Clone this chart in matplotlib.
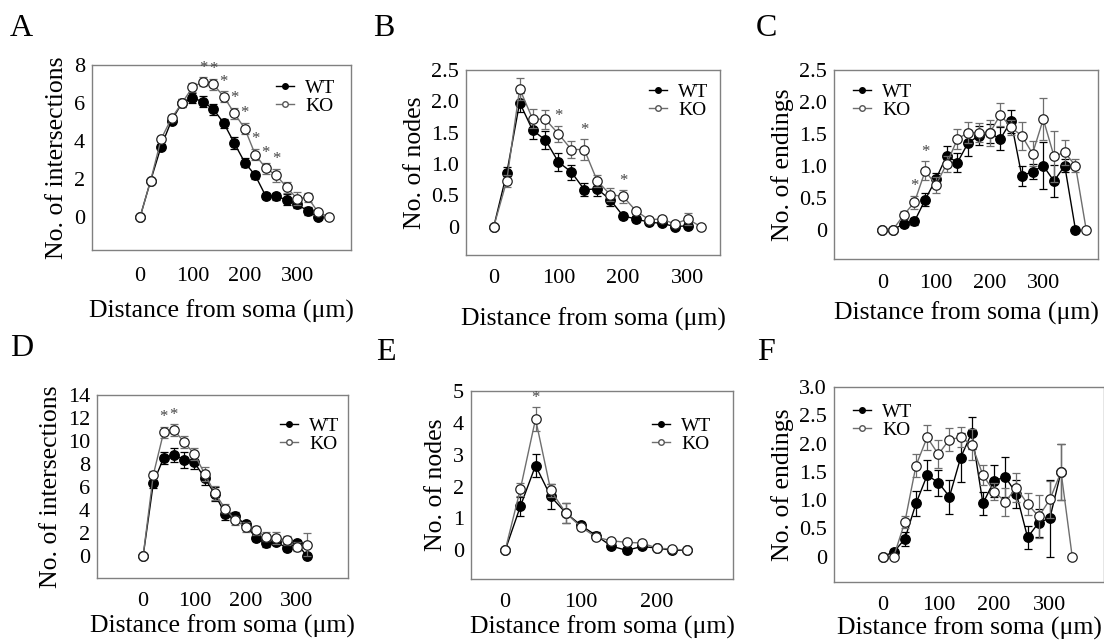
import numpy as np
import matplotlib
matplotlib.use("Agg")
import matplotlib.pyplot as plt

plt.rcParams['font.family'] = ['Liberation Serif', 'DejaVu Serif']

# ---------------- data ----------------
# A: intersections, first set
a_x_wt = [0, 20, 40, 60, 80, 100, 120, 140, 160, 180, 200, 220, 240, 260, 280, 300, 320, 340]
a_wt = [0, 1.9, 3.7, 5.07, 6.0, 6.26, 6.07, 5.67, 4.93, 3.88, 2.86, 2.18, 1.1, 1.07, 0.9, 0.68, 0.3, 0.0]
a_wt_err = [0, 0.05, 0.15, 0.15, 0.2, 0.25, 0.3, 0.3, 0.25, 0.3, 0.25, 0.2, 0.15, 0.2, 0.3, 0.2, 0.2, 0.05]
a_x_ko = [0, 20, 40, 60, 80, 100, 120, 140, 160, 180, 200, 220, 240, 260, 280, 300, 320, 340, 360]
a_ko = [0, 1.9, 4.09, 5.2, 6.0, 6.82, 7.12, 6.98, 6.33, 5.46, 4.65, 3.28, 2.56, 2.19, 1.56, 0.95, 1.03, 0.25, 0.0]
a_ko_err = [0, 0.1, 0.15, 0.15, 0.2, 0.25, 0.25, 0.3, 0.3, 0.3, 0.3, 0.3, 0.3, 0.35, 0.3, 0.35, 0.25, 0.1, 0]
a_stars = [120, 140, 160, 180, 200, 220, 240, 260]

# B: nodes, first set
b_x_wt = [0, 20, 40, 60, 80, 100, 120, 140, 160, 180, 200, 220, 240, 260, 280, 300]
b_wt = [0, 0.85, 1.98, 1.54, 1.38, 1.03, 0.87, 0.59, 0.6, 0.43, 0.17, 0.12, 0.07, 0.05, 0.0, 0.01]
b_wt_err = [0, 0.1, 0.15, 0.14, 0.14, 0.15, 0.12, 0.1, 0.12, 0.1, 0.05, 0.05, 0.03, 0.03, 0.02, 0.02]
b_x_ko = [0, 20, 40, 60, 80, 100, 120, 140, 160, 180, 200, 220, 240, 260, 280, 300, 320]
b_ko = [0, 0.73, 2.2, 1.72, 1.71, 1.48, 1.23, 1.23, 0.73, 0.51, 0.48, 0.25, 0.11, 0.12, 0.04, 0.12, 0.0]
b_ko_err = [0, 0.1, 0.18, 0.15, 0.15, 0.13, 0.14, 0.16, 0.1, 0.1, 0.1, 0.05, 0.04, 0.04, 0.03, 0.1, 0]
b_stars = [100, 140, 200]

# C: endings, first set
c_x_wt = [0, 20, 40, 60, 80, 100, 120, 140, 160, 180, 200, 220, 240, 260, 280, 300, 320, 340, 360]
c_wt = [0, 0, 0.09, 0.13, 0.47, 0.79, 1.16, 1.05, 1.36, 1.47, 1.51, 1.42, 1.70, 0.84, 0.91, 1.0, 0.76, 1.0, 0.0]
c_wt_err = [0, 0, 0.05, 0.05, 0.1, 0.1, 0.15, 0.15, 0.2, 0.15, 0.15, 0.18, 0.18, 0.15, 0.12, 0.37, 0.25, 0.1, 0]
c_x_ko = [0, 20, 40, 60, 80, 100, 120, 140, 160, 180, 200, 220, 240, 260, 280, 300, 320, 340, 360, 380]
c_ko = [0, 0, 0.23, 0.43, 0.92, 0.70, 1.03, 1.42, 1.52, 1.52, 1.51, 1.80, 1.60, 1.47, 1.19, 1.73, 1.15, 1.21, 1.0, 0.0]
c_ko_err = [0, 0, 0.06, 0.1, 0.15, 0.12, 0.12, 0.15, 0.16, 0.15, 0.2, 0.18, 0.12, 0.22, 0.2, 0.33, 0.4, 0.2, 0.1, 0]
c_stars = [60, 80]

# D: intersections, second set
d_x = [0, 20, 40, 60, 80, 100, 120, 140, 160, 180, 200, 220, 240, 260, 280, 300, 320]
d_wt = [0, 6.36, 8.53, 8.8, 8.38, 8.15, 6.8, 5.4, 3.67, 3.47, 2.75, 1.59, 1.1, 1.24, 0.72, 1.1, 0.0]
d_wt_err = [0, 0.4, 0.5, 0.6, 0.7, 0.6, 0.6, 0.6, 0.5, 0.4, 0.3, 0.3, 0.3, 0.3, 0.3, 0.3, 0.1]
d_ko = [0, 7.08, 10.75, 10.98, 9.91, 8.87, 7.17, 5.49, 4.13, 3.12, 2.54, 2.25, 1.68, 1.59, 1.39, 0.81, 1.01]
d_ko_err = [0, 0.3, 0.5, 0.5, 0.5, 0.5, 0.6, 0.6, 0.4, 0.4, 0.4, 0.4, 0.4, 0.5, 0.4, 0.4, 1.0]
d_stars = [40, 60]

# E: nodes, second set
e_x = [0, 20, 40, 60, 80, 100, 120, 140, 160, 180, 200, 220, 240]
e_wt = [0, 1.38, 2.66, 1.69, 1.17, 0.78, 0.46, 0.13, 0.0, 0.12, 0.07, 0.0, 0.0]
e_wt_err = [0, 0.3, 0.35, 0.4, 0.3, 0.1, 0.1, 0.05, 0.03, 0.05, 0.03, 0.02, 0]
e_ko = [0, 1.92, 4.12, 1.88, 1.17, 0.73, 0.41, 0.3, 0.25, 0.23, 0.07, 0.04, 0.0]
e_ko_err = [0, 0.2, 0.38, 0.2, 0.3, 0.1, 0.08, 0.05, 0.05, 0.05, 0.03, 0.02, 0]
e_stars = [40]

# F: endings, second set
f_x_wt = [0, 20, 40, 60, 80, 100, 120, 140, 160, 180, 200, 220, 240, 260, 280, 300, 320]
f_wt = [0, 0.08, 0.31, 0.94, 1.44, 1.31, 1.06, 1.75, 2.19, 0.94, 1.34, 1.41, 1.11, 0.34, 0.6, 0.68, 1.5]
f_wt_err = [0, 0.05, 0.12, 0.22, 0.27, 0.23, 0.3, 0.43, 0.28, 0.2, 0.28, 0.35, 0.25, 0.2, 0.25, 0.68, 0.5]
f_x_ko = [0, 20, 40, 60, 80, 100, 120, 140, 160, 180, 200, 220, 240, 260, 280, 300, 320, 340]
f_ko = [0, 0, 0.61, 1.61, 2.11, 1.81, 2.07, 2.11, 1.98, 1.44, 1.15, 0.97, 1.22, 0.93, 0.71, 1.01, 1.5, 0.0]
f_ko_err = [0, 0, 0.1, 0.2, 0.22, 0.25, 0.2, 0.18, 0.28, 0.18, 0.15, 0.25, 0.25, 0.2, 0.38, 0.33, 0.5, 0]

ko_grey = '#6e6e6e'
fs_lab = 18.5
fs_tick = 16

W, H = 1104, 644
fig = plt.figure(figsize=(W / 100, H / 100), dpi=100)


def px_axes(x0, y0, x1, y1):
    return fig.add_axes([x0 / W, 1 - y1 / H, (x1 - x0) / W, (y1 - y0) / H])


def draw_panel(ax, xw, yw, ew, xk, yk, ek, stars, xlim, ylim, xt, yt, ytl,
               ylabel, leg_px, xpad=12, xlabpad=10):
    ax.errorbar(xw, yw, yerr=ew, color='black', lw=1.0, marker='o', ms=6.8,
                mfc='black', mec='black', ecolor='black', elinewidth=0.9,
                capsize=2.6, capthick=0.9, zorder=3, label='WT')
    ax.errorbar(xk, yk, yerr=ek, color=ko_grey, lw=1.0, marker='o', ms=6.8,
                mfc='white', mec='#222222', mew=0.9, ecolor=ko_grey,
                elinewidth=0.9, capsize=2.6, capthick=0.9, zorder=4, label='KO')
    for s in stars:
        i = xk.index(s)
        ax.annotate('*', (s, yk[i] + ek[i]), xytext=(0, 1), textcoords='offset points',
                    ha='center', va='bottom', fontsize=12, color='#444444')
    ax.set_xlim(*xlim)
    ax.set_ylim(*ylim)
    ax.set_xticks(xt)
    ax.set_yticks(yt)
    ax.set_yticklabels(ytl)
    ax.tick_params(length=0, labelsize=fs_tick)
    ax.tick_params(axis='x', pad=xpad)
    ax.tick_params(axis='y', pad=5)
    for sp in ax.spines.values():
        sp.set_color('#808080')
        sp.set_linewidth(1.0)
    ax.set_xlabel('Distance from soma (\u03bcm)', fontsize=fs_lab, labelpad=xlabpad)
    ax.set_ylabel(ylabel, fontsize=fs_lab, labelpad=4)
    h, l = ax.get_legend_handles_labels()
    hh = [plt.Line2D([], [], color=c, marker='o', ms=4, mfc=f, mec=e, lw=1.0)
          for c, f, e in [('black', 'black', 'black'), (ko_grey, 'white', '#555555')]]
    # leg_px: (left of handle, centre of first row) in figure pixels
    ax.legend(hh, l, loc='upper left',
              bbox_to_anchor=(leg_px[0] / W, 1 - (leg_px[1] - 7) / H),
              bbox_transform=fig.transFigure, frameon=False,
              fontsize=14, handlelength=0.95, handletextpad=0.55, labelspacing=0.03,
              borderaxespad=0, borderpad=0)


ax_a = px_axes(92, 65, 351, 250)
draw_panel(ax_a, a_x_wt, a_wt, a_wt_err, a_x_ko, a_ko, a_ko_err, a_stars,
           (-92, 403), (-1.75, 8), [0, 100, 200, 300], [0, 2, 4, 6, 8],
           ['0', '2', '4', '6', '8'], 'No. of intersections', (276, 86))

ax_b = px_axes(466, 70, 720, 255)
draw_panel(ax_b, b_x_wt, b_wt, b_wt_err, b_x_ko, b_ko, b_ko_err, b_stars,
           (-43, 350), (-0.455, 2.5), [0, 100, 200, 300], [0, 0.5, 1.0, 1.5, 2.0, 2.5],
           ['0', '0.5', '1.0', '1.5', '2.0', '2.5'], 'No. of nodes', (649, 90),
           xpad=10, xlabpad=14)

ax_c = px_axes(834, 70, 1098, 259)
draw_panel(ax_c, c_x_wt, c_wt, c_wt_err, c_x_ko, c_ko, c_ko_err, c_stars,
           (-90, 402), (-0.46, 2.5), [0, 100, 200, 300], [0, 0.5, 1.0, 1.5, 2.0, 2.5],
           ['0', '0.5', '1.0', '1.5', '2.0', '2.5'], 'No. of endings', (853, 90),
           xpad=11, xlabpad=6)

ax_d = px_axes(97, 395, 348, 578)
draw_panel(ax_d, d_x, d_wt, d_wt_err, d_x, d_ko, d_ko_err, d_stars,
           (-90, 400), (-1.9, 14), [0, 100, 200, 300], [0, 2, 4, 6, 8, 10, 12, 14],
           ['0', '2', '4', '6', '8', '10', '12', '14'], 'No. of intersections',
           (280, 424), xpad=10, xlabpad=3)

ax_e = px_axes(471, 391, 733, 579)
draw_panel(ax_e, e_x, e_wt, e_wt_err, e_x, e_ko, e_ko_err, e_stars,
           (-45, 300), (-0.9, 5), [0, 100, 200], [0, 1, 2, 3, 4, 5],
           ['0', '1', '2', '3', '4', '5'], 'No. of nodes', (652, 424),
           xpad=10, xlabpad=3)

ax_f = px_axes(834, 387, 1104, 582)
draw_panel(ax_f, f_x_wt, f_wt, f_wt_err, f_x_ko, f_ko, f_ko_err, [],
           (-87, 397), (-0.45, 3.0), [0, 100, 200, 300], [0, 0.5, 1.0, 1.5, 2.0, 2.5, 3.0],
           ['0', '0.5', '1.0', '1.5', '2.0', '2.5', '3.0'], 'No. of endings',
           (853, 410), xpad=10, xlabpad=1)

# panel letters
for txt, x, y in [('A', 10, 36), ('B', 373, 36), ('C', 756, 36),
                  ('D', 10, 356), ('E', 376, 360), ('F', 757, 360)]:
    fig.text(x / W, 1 - y / H, txt, fontsize=23, ha='left', va='baseline')

fig.savefig('out.png', dpi=100)
